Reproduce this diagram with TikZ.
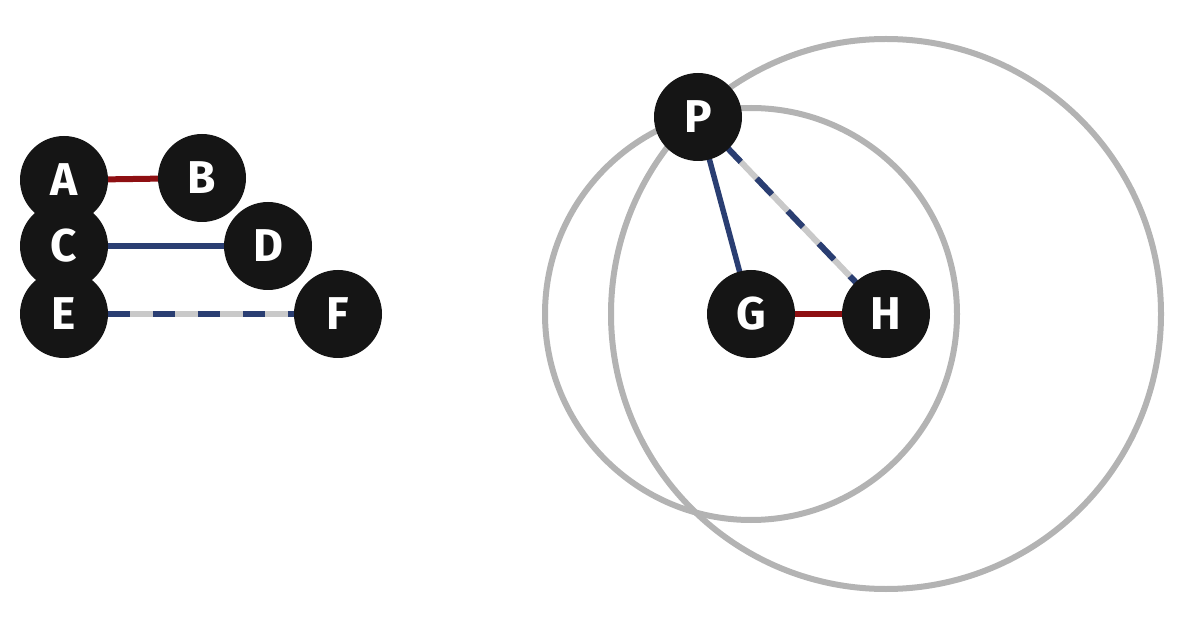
\documentclass[tikz,border=0pt]{standalone}
\usepackage{fontspec}
\usetikzlibrary{calc}
\setsansfont{Fira Sans}
\begin{document}
\begin{tikzpicture}[x=1pt,y=-1pt,
  vtx/.style={circle,fill=nodeblack,draw=none,minimum size=88pt,inner sep=0pt,text=white,font=\sffamily\bfseries\fontsize{46}{46}\selectfont},
  rededge/.style={draw=edgered,line width=6pt},
  blueedge/.style={draw=edgeblue,line width=5.5pt},
  dashgray/.style={draw=dashgrey,line width=6pt},
  dashblue/.style={draw=edgeblue,line width=6pt,dash pattern=on 22pt off 23pt},
  ring/.style={draw=ringgray,line width=6pt}]
\definecolor{nodeblack}{HTML}{151515}
\definecolor{edgered}{HTML}{8E0F12}
\definecolor{edgeblue}{HTML}{2A3E72}
\definecolor{dashgrey}{HTML}{C9C9C9}
\definecolor{ringgray}{HTML}{B3B3B3}
\useasboundingbox (0,0) rectangle (1200,628);
% node coordinates
\coordinate (cA) at (64,180);
\coordinate (cB) at (202,178);
\coordinate (cC) at (64,246);
\coordinate (cD) at (268,246);
\coordinate (cE) at (64,314);
\coordinate (cF) at (338,314);
\coordinate (cP) at (698,117);
\coordinate (cG) at (751,314);
\coordinate (cH) at (886,314);
% rings centred on G and H through P
\draw[ring] (cG) circle[radius=206];
\draw[ring] (cH) circle[radius=275];
% edges
\draw[rededge] (cA) -- (cB);
\draw[blueedge] (cC) -- (cD);
\draw[dashgray] (cE) -- (cF);
\draw[dashblue] ($(cE)!44pt!(cF)$) -- (cF);
\draw[blueedge] (cP) -- (cG);
\draw[dashgray] (cP) -- (cH);
\draw[dashblue] ($(cP)!40pt!(cH)$) -- (cH);
\draw[rededge] (cG) -- (cH);
% nodes
\node[vtx] (A) at (cA) {A};
\node[vtx] (C) at (cC) {C};
\node[vtx] (E) at (cE) {E};
\node[vtx] (B) at (cB) {B};
\node[vtx] (D) at (cD) {D};
\node[vtx] (F) at (cF) {F};
\node[vtx] (P) at (cP) {P};
\node[vtx] (G) at (cG) {G};
\node[vtx] (H) at (cH) {H};
\end{tikzpicture}
\end{document}
